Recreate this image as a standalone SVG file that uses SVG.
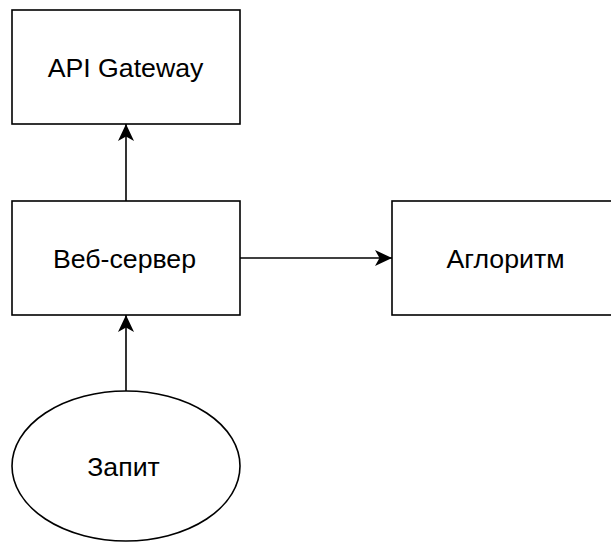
<svg xmlns="http://www.w3.org/2000/svg" width="611" height="543" viewBox="0 0 611 543">
<style>
.n{fill:#fff;stroke:#000;stroke-width:1.6}
.t{font-family:"Liberation Sans",Arial,sans-serif;font-size:26.7px;fill:#000;text-anchor:middle}
.e{fill:none;stroke:#000;stroke-width:1.6}
</style>
<defs>
<marker id="ah" markerUnits="userSpaceOnUse" viewBox="0 0 17 16" refX="17" refY="8" markerWidth="17" markerHeight="16" orient="auto">
<path d="M0,0 L17,8 L0,16 L4.5,8 Z" fill="#000"/>
</marker>
</defs>
<rect width="611" height="543" fill="#fff"/>
<g id="connectors">
<path class="e" d="M126,201 V124" marker-end="url(#ah)"/>
<path class="e" d="M240,258 H392" marker-end="url(#ah)"/>
<path class="e" d="M126,391 V315" marker-end="url(#ah)"/>
</g>
<g id="api-gateway">
<rect class="n" x="12" y="10" width="228" height="114"/>
<text class="t" x="125.5" y="76.8">API Gateway</text>
</g>
<g id="web-server">
<rect class="n" x="12" y="201" width="228" height="114"/>
<text class="t" x="124.5" y="267.5">Веб-сервер</text>
</g>
<g id="algorithm">
<rect class="n" x="392" y="201" width="228" height="114"/>
<text class="t" x="505.5" y="267.5">Аглоритм</text>
</g>
<g id="request">
<ellipse class="n" cx="126" cy="466" rx="114" ry="75"/>
<text class="t" x="123.5" y="475.5">Запит</text>
</g>
</svg>
